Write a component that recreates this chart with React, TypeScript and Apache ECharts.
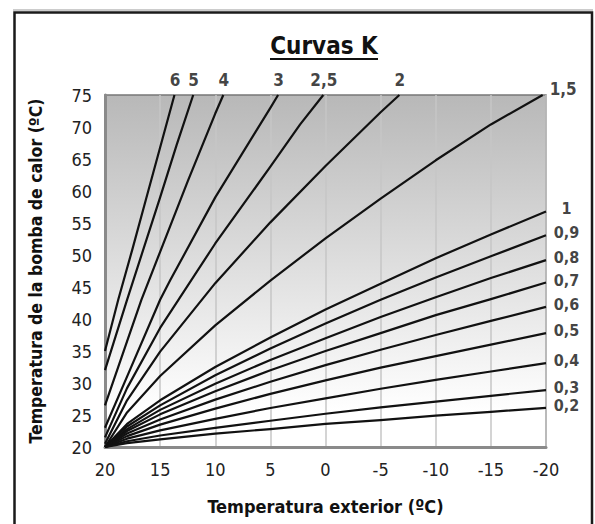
import React, { useEffect, useRef } from "react";
import * as echarts from "echarts";

// Axis ranges
const xMin = -20;
const xMax = 20;
const yMin = 20;
const yMax = 75;

// Common x positions for the lower curves
const xsLow = [20, 18, 15, 10, 5, 0, -5, -10, -15, -20];

// Steep curves (end where they reach 75 ºC)
const xK6 = [20, 18.8, 17.5, 16.3, 15, 13.7];
const yK6 = [35, 43, 51, 58.6, 66.8, 75];
const xK5 = [20, 18, 15, 13.5, 12];
const yK5 = [32, 43, 59, 67.2, 75];
const xK4 = [20, 18, 16.7, 15, 12.5, 10, 9.27];
const yK4 = [26.5, 36.5, 43, 50.5, 61.5, 72.1, 75];
const xK3 = [20, 18, 15, 14.1, 10, 5, 4.3];
const yK3 = [23, 31, 43, 46, 59, 73, 75];
const xK25 = [20, 18, 15, 10, 5, 2.3, 0.2];
const yK25 = [21.5, 29.2, 38.6, 51.8, 63.8, 70.4, 75];
const xK2 = [20, 18, 15, 10, 5, 0, -5, -6.7];
const yK2 = [20.5, 27.3, 34.9, 45.6, 55.1, 63.9, 72.3, 75];
const xK15 = [20, 18, 15, 10, 5, 0, -5, -10, -15, -19.7];
const yK15 = [20, 25.4, 31.1, 39.0, 46.0, 52.6, 58.8, 64.8, 70.4, 75];

// Lower curves at xsLow
const yK1 = [20, 23.6, 27.3, 32.5, 37.1, 41.5, 45.5, 49.5, 53.2, 56.8];
const yK09 = [20, 23.2, 26.5, 31.2, 35.4, 39.3, 43.0, 46.5, 49.8, 53.1];
const yK08 = [20, 22.8, 25.8, 29.9, 33.6, 37.0, 40.3, 43.4, 46.4, 49.2];
const yK07 = [20, 22.5, 25.1, 28.7, 32.0, 35.0, 37.8, 40.6, 43.1, 45.7];
const yK06 = [20, 22.1, 24.3, 27.4, 30.2, 32.8, 35.2, 37.5, 39.7, 41.9];
const yK05 = [20, 21.7, 23.5, 26.0, 28.3, 30.4, 32.4, 34.2, 36.0, 37.8];
const yK04 = [20, 21.3, 22.6, 24.4, 26.1, 27.6, 29.1, 30.5, 31.8, 33.1];
const yK03 = [20, 20.9, 21.8, 23.0, 24.1, 25.2, 26.2, 27.1, 28.0, 28.9];
const yK02 = [20, 20.6, 21.2, 22.1, 22.8, 23.6, 24.2, 24.9, 25.5, 26.1];

const curveNames = ["6", "5", "4", "3", "2,5", "2", "1,5", "1", "0,9", "0,8", "0,7", "0,6", "0,5", "0,4", "0,3", "0,2"];
const curveXs = [xK6, xK5, xK4, xK3, xK25, xK2, xK15, xsLow, xsLow, xsLow, xsLow, xsLow, xsLow, xsLow, xsLow, xsLow];
const curveYs = [yK6, yK5, yK4, yK3, yK25, yK2, yK15, yK1, yK09, yK08, yK07, yK06, yK05, yK04, yK03, yK02];

const titleText = "Curvas K";
const xName = "Temperatura exterior (ºC)";
const yName = "Temperatura de la bomba de calor (ºC)";

const FONT = '"DejaVu Sans Condensed", "DejaVu Sans", sans-serif';

export default function App() {
  const ref = useRef<HTMLDivElement>(null);
  useEffect(() => {
    if (!ref.current) return;
    const chart = echarts.init(ref.current, null, { renderer: "svg" });

    const lineSeries = curveNames.map((name, i) => ({
      type: "line",
      name,
      data: curveXs[i].map((x, j) => [x, curveYs[i][j]]),
      smooth: false,
      showSymbol: false,
      symbol: "none",
      silent: true,
      lineStyle: { color: "#111", width: 2.2, join: "round" },
      z: 3,
    }));

    const labelData = curveNames.map((name, i) => {
      const xs = curveXs[i];
      const ys = curveYs[i];
      const lx = xs[xs.length - 1];
      const ly = ys[ys.length - 1];
      const atTop = lx > -19;
      const corner = !atTop && ly >= yMax;
      return {
        value: [lx, ly],
        name,
        label: {
          show: true,
          formatter: name,
          position: atTop ? [1, -15] : [21, corner ? -6 : -2],
          align: "center",
          verticalAlign: "middle",
          fontFamily: FONT,
          fontWeight: "bold",
          fontSize: atTop || corner ? 17 : 16,
          lineHeight: atTop || corner ? 18 : 16,
          color: "#111",
        },
      };
    });

    chart.setOption({
      animation: false,
      backgroundColor: "#fff",
      grid: {
        left: 105,
        right: 49,
        top: 95,
        bottom: 77,
        show: true,
        borderColor: "#777",
        borderWidth: 1.5,
        backgroundColor: new echarts.graphic.LinearGradient(0, 0, 0, 1, [
          { offset: 0, color: "#b8b8b8" },
          { offset: 0.9, color: "#ffffff" },
          { offset: 1, color: "#ffffff" },
        ]),
      },
      xAxis: {
        type: "value",
        min: xMin,
        max: xMax,
        interval: 5,
        inverse: true,
        axisLine: { show: true, onZero: false, lineStyle: { color: "#8a8a8a", width: 3 } },
        axisTick: { show: false },
        splitLine: { show: true, lineStyle: { color: "#c6c6c6", width: 1.5 } },
        axisLabel: { margin: 13, fontSize: 18, color: "#222", fontFamily: FONT },
        name: xName,
        nameLocation: "middle",
        nameGap: 50,
        nameTextStyle: { fontWeight: "bold", fontSize: 18, color: "#111", fontFamily: FONT },
      },
      yAxis: {
        type: "value",
        min: yMin,
        max: yMax,
        interval: 5,
        axisLine: { show: true, onZero: false, lineStyle: { color: "#8a8a8a", width: 3 } },
        axisTick: { show: false },
        splitLine: { show: false },
        axisLabel: { margin: 13, fontSize: 18, color: "#222", fontFamily: FONT },
        name: yName,
        nameLocation: "middle",
        nameGap: 60,
        nameRotate: 90,
        nameTextStyle: { fontWeight: "bold", fontSize: 17.5, color: "#111", fontFamily: FONT },
      },
      graphic: [
        {
          type: "rect",
          shape: { x: 14.5, y: 12.5, width: 577.5, height: 540 },
          style: { fill: "transparent", stroke: "#1a1a1a", lineWidth: 2.5 },
          silent: true,
        },
        {
          type: "line",
          shape: { x1: 13, y1: 10, x2: 593, y2: 10 },
          style: { stroke: "#bbb", lineWidth: 1.5 },
          silent: true,
        },
        {
          type: "text",
          x: 324,
          y: 46,
          style: {
            text: titleText,
            textAlign: "center",
            textVerticalAlign: "middle",
            fontFamily: FONT,
            fontWeight: "bold",
            fontSize: 24,
            fill: "#111",
          },
        },
        {
          type: "line",
          shape: { x1: 270, y1: 59, x2: 378, y2: 59 },
          style: { stroke: "#111", lineWidth: 2 },
        },
      ],
      series: [
        ...lineSeries,
        {
          type: "scatter",
          data: labelData,
          symbolSize: 1,
          itemStyle: { color: "transparent" },
          silent: true,
          z: 5,
        },
      ],
    });
    return () => chart.dispose();
  }, []);
  return <div ref={ref} style={{ position: "absolute", left: 0, top: 0, width: 595, height: 524 }} />;
}
